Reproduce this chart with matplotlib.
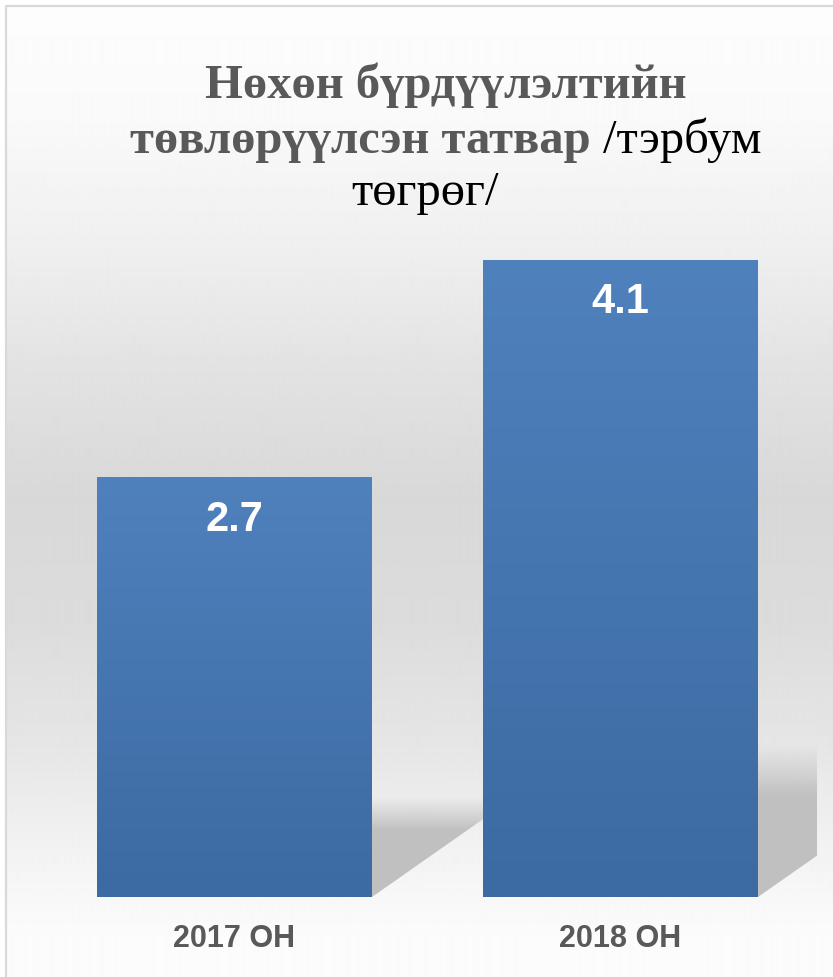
import matplotlib
matplotlib.use('Agg')
from matplotlib import pyplot as plt
from matplotlib.patches import Polygon
import numpy as np

## Data
categories = ['2017 ОН', '2018 ОН']
values     = [2.7, 4.1]
title_bold = ['Нөхөн бүрдүүлэлтийн', 'төвлөрүүлсэн татвар ']
title_reg  = ['/тэрбум', 'төгрөг/']

## Config
W, H, dpi = 833, 978, 100
serif = ['Liberation Serif', 'DejaVu Serif']
sans  = ['Liberation Sans', 'DejaVu Sans']
gray_text = '#595959'
bar_top, bar_bot = np.array([79, 129, 189]) / 255, np.array([60, 106, 162]) / 255
bar_width = 0.712

fig = plt.figure(figsize=(W / dpi, H / dpi), dpi=dpi)
fig.patch.set_facecolor('white')

# background gradient (grey band in the middle)
bg = fig.add_axes([6 / W, 0, 1 - 6 / W, 1 - 7 / H], zorder=-5)
rows = np.arange(7, H)
stops_y = [7, 125, 250, 375, 500, 624, 748, 873, 935, 978]
stops_v = [253, 249, 239, 226, 216, 220, 230, 245, 251, 252]
g = np.interp(rows, stops_y, stops_v) / 255
bg.imshow(np.repeat(g[:, None], 2, axis=1), cmap='gray', vmin=0, vmax=1,
          aspect='auto', extent=[0, 1, 0, 1], interpolation='bilinear')
bg.axis('off')

# frame (only top and left edges are visible)
fig.add_artist(plt.Line2D([6 / W, 6 / W, 1], [0, 1 - 7 / H, 1 - 7 / H],
                          transform=fig.transFigure, color='#d9d9d9', lw=1.6))

## Plot area
left_px, right_px, zero_px, top_px = 20, 817, 898, 250
px_per_x, px_per_y = 386, 155.4
ax = fig.add_axes([left_px / W, (H - zero_px) / H,
                   (right_px - left_px) / W, (zero_px - top_px) / H])
ax.set_facecolor('none')
x = np.arange(len(values))
xlim = (-(234.5 - left_px) / px_per_x, 1 + (right_px - 620.5) / px_per_x)
ylim = (0, (zero_px - top_px) / px_per_y)
ax.axis('off')

# shadows cast to the right of each bar
for xi, v in zip(x, values):
    xr = xi + bar_width / 2
    hs = 0.24 * v
    dx = (hs * px_per_y / 0.7) / px_per_x
    poly = Polygon([(xr, 0), (xr, hs), (xr + dx, hs)], closed=True,
                   facecolor='none', edgecolor='none')
    ax.add_patch(poly)
    ny = 60
    fade = np.clip((hs - np.linspace(hs, 0, ny)) / (0.08 * v), 0, 1)
    rgba = np.zeros((ny, 2, 4))
    rgba[..., :3] = 0.755
    rgba[..., 3] = fade[:, None]
    im = ax.imshow(rgba, extent=[xr, xr + dx, 0, hs], aspect='auto',
                   interpolation='bilinear', zorder=1)
    im.set_clip_path(poly)

# bars with vertical gradient
bars = ax.bar(x, values, width=bar_width, color='#4a7ab5', zorder=2)
for b, v in zip(bars, values):
    t = np.linspace(0, 1, 100)[:, None]
    grad = bar_top + (bar_bot - bar_top) * t
    img = np.repeat(grad[:, None, :], 2, axis=1)
    im = ax.imshow(img, extent=[b.get_x(), b.get_x() + b.get_width(), 0, v],
                   aspect='auto', interpolation='bilinear', zorder=3)
    im.set_clip_path(b)

ax.set_xlim(*xlim)
ax.set_ylim(*ylim)

# value labels
for xi, v in zip(x, values):
    ax.annotate(f'{v:.1f}', (xi, v), xytext=(0, -37.5), textcoords='offset points',
                ha='center', va='baseline', color='white', fontsize=30,
                fontweight='bold', family=sans, zorder=5)

# category labels
for xi, c in zip(x, categories):
    ax.annotate(c, (xi, 0), xytext=(0, -35.5), textcoords='offset points',
                ha='center', va='baseline', color=gray_text, fontsize=22,
                fontweight='bold', family=sans, annotation_clip=False)

## Title (mixed bold grey / regular black)
fs = 35
cx = 446 / W
base = [98, 153, 205]
r = fig.canvas.get_renderer()

fig.text(cx, 1 - base[0] / H, title_bold[0], ha='center', va='baseline',
         fontsize=fs, fontweight='bold', color=gray_text, family=serif)

ta = fig.text(0, 1 - base[1] / H, title_bold[1], ha='left', va='baseline',
              fontsize=fs, fontweight='bold', color=gray_text, family=serif)
tb = fig.text(0, 1 - base[1] / H, title_reg[0], ha='left', va='baseline',
              fontsize=fs, color='black', family=serif)
wa = ta.get_window_extent(r).width
wb = tb.get_window_extent(r).width
x0 = cx * W - (wa + wb) / 2
ta.set_x(x0 / W)
tb.set_x((x0 + wa) / W)

fig.text(425 / W, 1 - base[2] / H, title_reg[1], ha='center', va='baseline',
         fontsize=fs, color='black', family=serif)

plt.savefig('out.png', dpi=dpi)
plt.close()
